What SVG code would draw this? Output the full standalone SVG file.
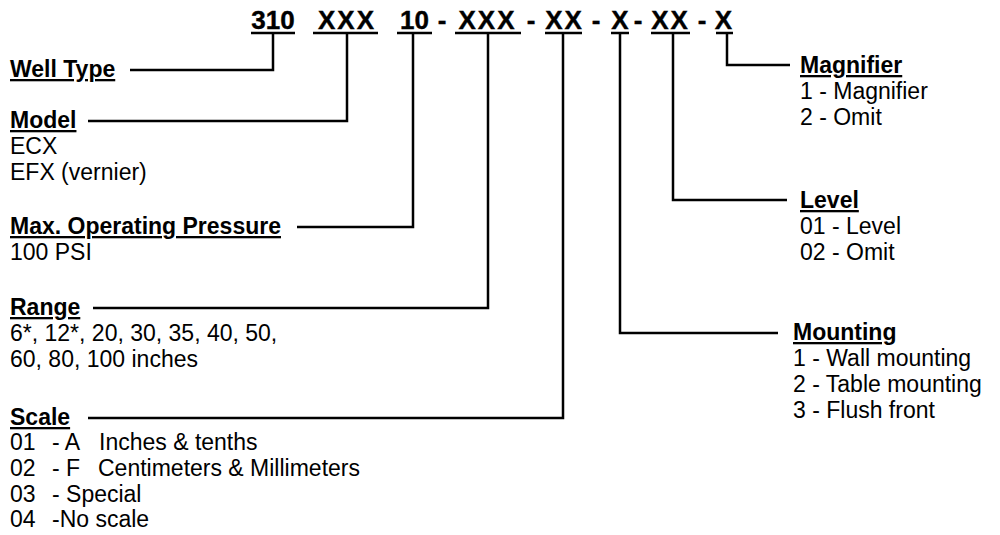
<svg xmlns="http://www.w3.org/2000/svg" width="1000" height="535" viewBox="0 0 1000 535">
<style>
text{font-family:"Liberation Sans",Arial,sans-serif;font-size:23px;fill:#000}
.h{font-weight:bold;text-decoration:underline}
.code{font-weight:bold;font-size:26px;text-anchor:middle;stroke:#000;stroke-width:0.4}
.x{letter-spacing:2px}
.ln{stroke:#000;stroke-width:2.5;fill:none}
</style>
<rect width="1000" height="535" fill="#fff"/>
<g id="code">
<text class="code" x="273" y="29">310</text>
<text class="code x" x="347" y="29">XXX</text>
<text class="code" x="414.5" y="29">10</text>
<text class="code" x="442" y="29">-</text>
<text class="code x" x="487.5" y="29">XXX</text>
<text class="code" x="531" y="29">-</text>
<text class="code x" x="564.5" y="29">XX</text>
<text class="code" x="596" y="29">-</text>
<text class="code x" x="621" y="29">X</text>
<text class="code" x="638" y="29">-</text>
<text class="code x" x="670.5" y="29">XX</text>
<text class="code" x="702" y="29">-</text>
<text class="code x" x="724.5" y="29">X</text>
<path class="ln" d="M251,33H295M313,33H378M397,33H432M455,33H521M545,33H582M611,33H629M651,33H690M716,33H733"/>
</g>
<g id="connectors">
<path class="ln" d="M130,70H273V33"/>
<path class="ln" d="M88,121H347V33"/>
<path class="ln" d="M297,227H413V33"/>
<path class="ln" d="M93,308H488V33"/>
<path class="ln" d="M88,418H563V33"/>
<path class="ln" d="M778,333H620V33"/>
<path class="ln" d="M787,200H673V33"/>
<path class="ln" d="M790,65H727V33"/>
</g>
<g id="well-type"><text class="h" x="10" y="77">Well Type</text></g>
<g id="model"><text class="h" x="10" y="128">Model</text><text x="10" y="154">ECX</text><text x="10" y="180">EFX (vernier)</text></g>
<g id="pressure"><text class="h" x="10" y="234">Max. Operating Pressure</text><text x="10" y="260">100 PSI</text></g>
<g id="range"><text class="h" x="10" y="315">Range</text><text x="10" y="341">6*, 12*, 20, 30, 35, 40, 50,</text><text x="10" y="367">60, 80, 100 inches</text></g>
<g id="scale"><text class="h" x="10" y="425">Scale</text>
<text x="10" y="450">01</text><text x="52" y="450">- A</text><text x="99" y="450">Inches &amp; tenths</text>
<text x="10" y="476">02</text><text x="52" y="476">- F</text><text x="98" y="476">Centimeters &amp; Millimeters</text>
<text x="10" y="502">03</text><text x="52" y="502">- Special</text>
<text x="10" y="527">04</text><text x="52" y="527">-No scale</text></g>
<g id="magnifier"><text class="h" x="800" y="73">Magnifier</text><text x="800" y="99">1 - Magnifier</text><text x="800" y="125">2 - Omit</text></g>
<g id="level"><text class="h" x="800" y="208">Level</text><text x="800" y="234">01 - Level</text><text x="800" y="260">02 - Omit</text></g>
<g id="mounting"><text class="h" x="793" y="340">Mounting</text><text x="793" y="366">1 - Wall mounting</text><text x="793" y="392">2 - Table mounting</text><text x="793" y="418">3 - Flush front</text></g>
</svg>
